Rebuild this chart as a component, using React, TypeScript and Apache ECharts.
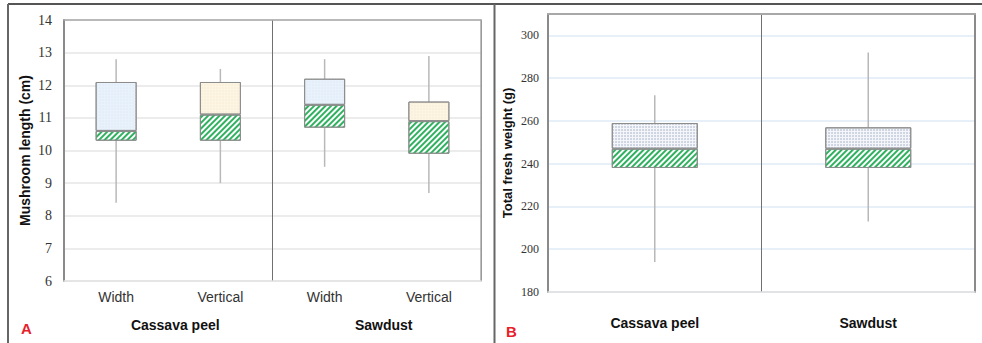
import { useEffect, useRef } from 'react';
import * as echarts from 'echarts';

// ---- Panel A: mushroom length (cm) ----
const LENGTH_CATEGORIES = ['Width', 'Vertical', 'Width', 'Vertical'];
const LENGTH_GROUPS = ['Cassava peel', 'Sawdust'];
const LENGTH_MIN = [8.4, 9.0, 9.5, 8.7];
const LENGTH_Q1 = [10.3, 10.3, 10.7, 9.9];
const LENGTH_MEDIAN = [10.6, 11.1, 11.4, 10.9];
const LENGTH_Q3 = [12.1, 12.1, 12.2, 11.5];
const LENGTH_MAX = [12.8, 12.5, 12.8, 12.9];
const LENGTH_TICKS = [6, 7, 8, 9, 10, 11, 12, 13, 14];

// ---- Panel B: total fresh weight (g) ----
const WEIGHT_CATEGORIES = ['Cassava peel', 'Sawdust'];
const WEIGHT_MIN = [194, 213];
const WEIGHT_Q1 = [238, 238];
const WEIGHT_MEDIAN = [247, 247];
const WEIGHT_Q3 = [259, 257];
const WEIGHT_MAX = [272, 292];
const WEIGHT_TICKS = [180, 200, 220, 240, 260, 280, 300];
const WEIGHT_AXIS_MAX = 310;

const diff = (a: number[], b: number[]) => a.map((v, i) => +(v - b[i]).toFixed(4));

const HATCH = {
  symbol: 'rect',
  symbolSize: 1,
  dashArrayX: [1, 0],
  dashArrayY: [1.5, 1.5],
  rotation: -Math.PI / 4,
  color: '#2fb160',
};

const dots = (color: string) => ({
  symbol: 'circle',
  symbolSize: 0.7,
  dashArrayX: [2, 1],
  dashArrayY: [2, 1],
  rotation: 0,
  color,
});

const whiskerSeries = (xi: number, yi: number, mins: number[], maxs: number[]) => ({
  type: 'custom',
  xAxisIndex: xi,
  yAxisIndex: yi,
  z: 1,
  silent: true,
  data: mins.map((m, i) => [i, m, maxs[i]]),
  encode: { x: 0, y: [1, 2] },
  renderItem: (_p: any, api: any) => {
    const lo = api.coord([api.value(0), api.value(1)]);
    const hi = api.coord([api.value(0), api.value(2)]);
    return {
      type: 'line',
      shape: { x1: lo[0], y1: lo[1], x2: hi[0], y2: hi[1] },
      style: { stroke: '#b8b8b8', lineWidth: 1.5 },
    };
  },
});

const boxSeries = (
  xi: number,
  yi: number,
  stack: string,
  barWidth: number,
  q1: number[],
  med: number[],
  q3: number[],
  upperStyles: any[],
) => [
  {
    type: 'bar',
    xAxisIndex: xi,
    yAxisIndex: yi,
    stack,
    barWidth,
    z: 2,
    silent: true,
    itemStyle: { color: 'rgba(0,0,0,0)' },
    data: q1,
  },
  {
    type: 'bar',
    xAxisIndex: xi,
    yAxisIndex: yi,
    stack,
    barWidth,
    z: 2,
    silent: true,
    itemStyle: { color: '#ffffff', borderColor: '#8c8c8c', borderWidth: 1, decal: HATCH },
    data: diff(med, q1),
  },
  {
    type: 'bar',
    xAxisIndex: xi,
    yAxisIndex: yi,
    stack,
    barWidth,
    z: 2,
    silent: true,
    data: diff(q3, med).map((v, i) => ({ value: v, itemStyle: upperStyles[i] })),
  },
];

const widthStyle = { color: '#e9f2fb', borderColor: '#8c8c8c', borderWidth: 1, decal: dots('#dae8f7') };
const vertStyle = { color: '#fdf5e4', borderColor: '#8c8c8c', borderWidth: 1, decal: dots('#f7e9cc') };
const weightUpper = { color: '#f4f6fa', borderColor: '#8c8c8c', borderWidth: 1, decal: dots('#97a3bd') };

export default function App() {
  const ref = useRef<HTMLDivElement>(null);

  useEffect(() => {
    document.body.style.margin = '0';
    if (!ref.current) return;
    const chart = echarts.init(ref.current, undefined, { renderer: 'svg' });

    const serif = 'Liberation Serif, Times New Roman, serif';
    const sans = 'Liberation Sans, Arial, sans-serif';

    const option: any = {
      animation: false,
      backgroundColor: '#ffffff',
      grid: [
        { left: 64, top: 20, width: 417, height: 261 },
        { left: 548, top: 14, width: 427, height: 278 },
      ],
      xAxis: [
        {
          gridIndex: 0,
          type: 'category',
          data: LENGTH_CATEGORIES,
          axisLine: { show: true, lineStyle: { color: '#e2e2e2', width: 1.5 } },
          axisTick: { show: false },
          axisLabel: { fontSize: 14, color: '#333', fontFamily: sans, margin: 9 },
          splitLine: { show: false },
        },
        {
          gridIndex: 0,
          type: 'category',
          data: LENGTH_GROUPS,
          position: 'bottom',
          offset: 28,
          axisLine: { show: false },
          axisTick: { show: false },
          axisLabel: { fontSize: 14, fontWeight: 'bold', color: '#111', fontFamily: sans, margin: 9, padding: [0, 0, 0, 14] },
          splitLine: {
            show: true,
            interval: 0,
            lineStyle: { color: '#707070', width: 1 },
          },
        },
        {
          gridIndex: 0,
          type: 'category',
          data: LENGTH_CATEGORIES,
          position: 'top',
          axisLine: { show: true, lineStyle: { color: '#a8a8a8', width: 1.5 } },
          axisTick: { show: false },
          axisLabel: { show: false },
          splitLine: { show: false },
        },
        {
          gridIndex: 1,
          type: 'category',
          data: WEIGHT_CATEGORIES,
          axisLine: { show: true, lineStyle: { color: '#e0e0e0', width: 1.5 } },
          axisTick: { show: false },
          axisLabel: { fontSize: 14, fontWeight: 'bold', color: '#111', fontFamily: sans, margin: 24 },
          splitLine: {
            show: true,
            interval: 0,
            lineStyle: { color: '#707070', width: 1 },
          },
        },
        {
          gridIndex: 1,
          type: 'category',
          data: WEIGHT_CATEGORIES,
          position: 'top',
          axisLine: { show: true, lineStyle: { color: '#a8a8a8', width: 2 } },
          axisTick: { show: false },
          axisLabel: { show: false },
          splitLine: { show: false },
        },
      ],
      yAxis: [
        {
          gridIndex: 0,
          type: 'value',
          min: LENGTH_TICKS[0],
          max: LENGTH_TICKS[LENGTH_TICKS.length - 1],
          interval: LENGTH_TICKS[1] - LENGTH_TICKS[0],
          name: 'Mushroom length (cm)',
          nameLocation: 'middle',
          nameGap: 32,
          nameTextStyle: { fontSize: 14, fontWeight: 'bold', color: '#111', fontFamily: sans },
          axisLine: { show: true, lineStyle: { color: '#8a8a8a', width: 2 } },
          axisTick: { show: false },
          axisLabel: { fontSize: 14, color: '#333', fontFamily: serif, margin: 12 },
          splitLine: { show: true, lineStyle: { color: '#e6e6e6', width: 1.5 } },
        },
        {
          gridIndex: 0,
          type: 'value',
          position: 'right',
          min: LENGTH_TICKS[0],
          max: LENGTH_TICKS[LENGTH_TICKS.length - 1],
          axisLine: { show: true, lineStyle: { color: '#a8a8a8', width: 1.5 } },
          axisTick: { show: false },
          axisLabel: { show: false },
          splitLine: { show: false },
        },
        {
          gridIndex: 1,
          type: 'value',
          min: WEIGHT_TICKS[0],
          max: WEIGHT_AXIS_MAX,
          interval: WEIGHT_TICKS[1] - WEIGHT_TICKS[0],
          name: 'Total fresh weight (g)',
          nameLocation: 'middle',
          nameGap: 34,
          nameTextStyle: { fontSize: 13, fontWeight: 'bold', color: '#111', fontFamily: sans },
          axisLine: { show: true, lineStyle: { color: '#8a8a8a', width: 2 } },
          axisTick: { show: false },
          axisLabel: { fontSize: 12, color: '#333', fontFamily: serif, margin: 9, showMaxLabel: false },
          splitLine: { show: true, lineStyle: { color: '#dfeaf6', width: 1.5 } },
        },
        {
          gridIndex: 1,
          type: 'value',
          position: 'right',
          min: WEIGHT_TICKS[0],
          max: WEIGHT_AXIS_MAX,
          axisLine: { show: true, lineStyle: { color: '#8a8a8a', width: 2 } },
          axisTick: { show: false },
          axisLabel: { show: false },
          splitLine: { show: false },
        },
      ],
      series: [
        whiskerSeries(0, 0, LENGTH_MIN, LENGTH_MAX),
        ...boxSeries(0, 0, 'len', 41, LENGTH_Q1, LENGTH_MEDIAN, LENGTH_Q3, [widthStyle, vertStyle, widthStyle, vertStyle]),
        whiskerSeries(3, 2, WEIGHT_MIN, WEIGHT_MAX),
        ...boxSeries(3, 2, 'wt', 86, WEIGHT_Q1, WEIGHT_MEDIAN, WEIGHT_Q3, [weightUpper, weightUpper]),
      ],
      graphic: [
        { type: 'line', shape: { x1: 8, y1: 4, x2: 982, y2: 4 }, style: { stroke: '#555', lineWidth: 2 } },
        { type: 'line', shape: { x1: 8, y1: 4, x2: 8, y2: 343 }, style: { stroke: '#666', lineWidth: 2 } },
        { type: 'line', shape: { x1: 494.5, y1: 4, x2: 494.5, y2: 343 }, style: { stroke: '#666', lineWidth: 2 } },
        {
          type: 'text',
          left: 21,
          top: 321,
          style: { text: 'A', fontSize: 15, fontWeight: 'bold', fill: '#e8202a', fontFamily: sans },
        },
        {
          type: 'text',
          left: 506,
          top: 324,
          style: { text: 'B', fontSize: 15, fontWeight: 'bold', fill: '#e8202a', fontFamily: sans },
        },
      ],
    };

    chart.setOption(option);
    return () => chart.dispose();
  }, []);

  return <div ref={ref} style={{ width: 982, height: 343 }} />;
}
